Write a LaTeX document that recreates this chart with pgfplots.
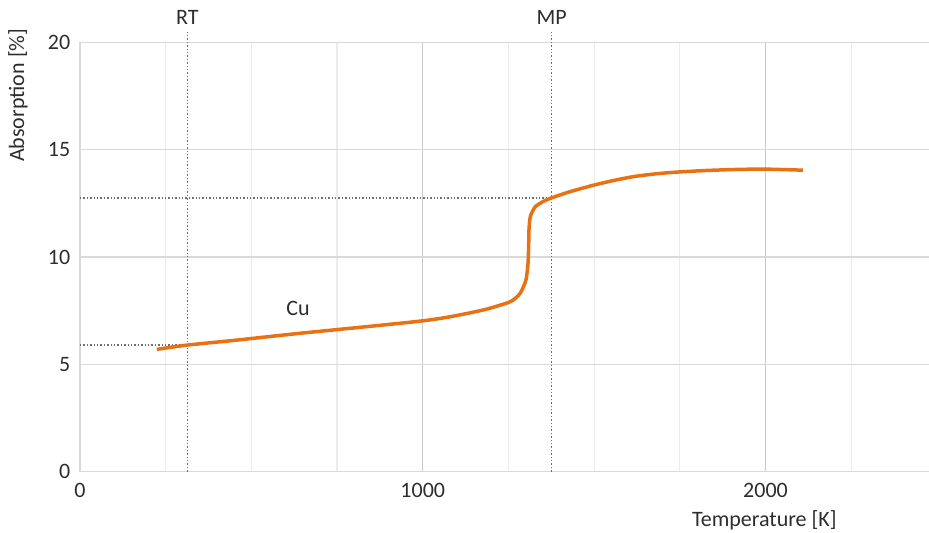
\documentclass[border=0pt]{standalone}
\usepackage{pgfplots}
\pgfplotsset{compat=1.18}
\usepackage{fontspec}
\setmainfont{Carlito}
\definecolor{curve}{RGB}{232,113,20}
\definecolor{txt}{RGB}{45,45,45}
\definecolor{majgrid}{RGB}{200,200,200}
\definecolor{mingrid}{RGB}{236,236,236}
\definecolor{hgrid}{RGB}{217,217,217}
\definecolor{refl}{RGB}{110,110,110}
\begin{document}
\fontsize{11}{13}\selectfont
\begin{tikzpicture}
\useasboundingbox (-40pt,-30.65pt) rectangle (424.5pt,235.85pt);
\begin{axis}[
  scale only axis,
  width=424.5pt, height=214.6pt,
  xmin=0, xmax=2477, ymin=0, ymax=20,
  axis x line=bottom, axis y line=left,
  axis line style={draw=hgrid, line width=0.8pt, -},
  xtick={0,1000,2000}, ytick={0,5,10,15,20},
  minor xtick={250,500,750,1250,1500,1750,2250},
  tick style={draw=none},
  major tick length=0pt, minor tick length=0pt,
  xmajorgrids, ymajorgrids, xminorgrids,
  x grid style={draw=majgrid, line width=0.6pt},
  y grid style={draw=hgrid, line width=0.6pt},
  minor x grid style={draw=mingrid, line width=0.6pt},
  /pgf/number format/assume math mode=true,
  /pgf/number format/1000 sep={},
  ticklabel style={font=\fontsize{11}{13}\selectfont, text=txt},
  xticklabel style={yshift=-2pt},
  yticklabel style={xshift=-1pt},
  label style={font=\fontsize{11}{13}\selectfont, text=txt},
  xlabel={Temperature [K]},
  ylabel={Absorption [\%]},
  xlabel style={at={(axis description cs:0.806,-0.113)}, anchor=center},
  ylabel style={at={(axis description cs:-0.073,0.877)}, anchor=center},
  clip=false,
]
% reference lines
\addplot[draw=refl, densely dotted, line width=0.7pt] coordinates {(313,0) (313,20.47)};
\addplot[draw=refl, densely dotted, line width=0.7pt] coordinates {(1376,0) (1376,20.47)};
\addplot[draw=refl, densely dotted, line width=0.7pt] coordinates {(0,5.9) (313,5.9)};
\addplot[draw=refl, densely dotted, line width=0.7pt] coordinates {(0,12.76) (1376,12.76)};
% Cu curve
\addplot[draw=curve, line width=1.75pt, smooth, tension=0.4] coordinates {
(224,5.70) (313,5.90) (450,6.12) (642,6.45) (850,6.78) (1000,7.03)
(1080,7.22) (1180,7.55) (1255,7.92) (1284,8.31) (1301,8.93) (1307,9.7)
(1309,10.5) (1310,11.3) (1314,11.9) (1328,12.34) (1350,12.58) (1376,12.76)
(1430,13.05) (1498,13.35) (1560,13.58) (1615,13.75) (1680,13.88) (1741,13.96)
(1820,14.03) (1906,14.08) (1994,14.10) (2109,14.05)
};
\node[text=txt] at (axis cs:313,21.18) {RT};
\node[text=txt] at (axis cs:1376,21.18) {MP};
\node[text=txt] at (axis cs:636,7.62) {Cu};
\end{axis}
\end{tikzpicture}
\end{document}
